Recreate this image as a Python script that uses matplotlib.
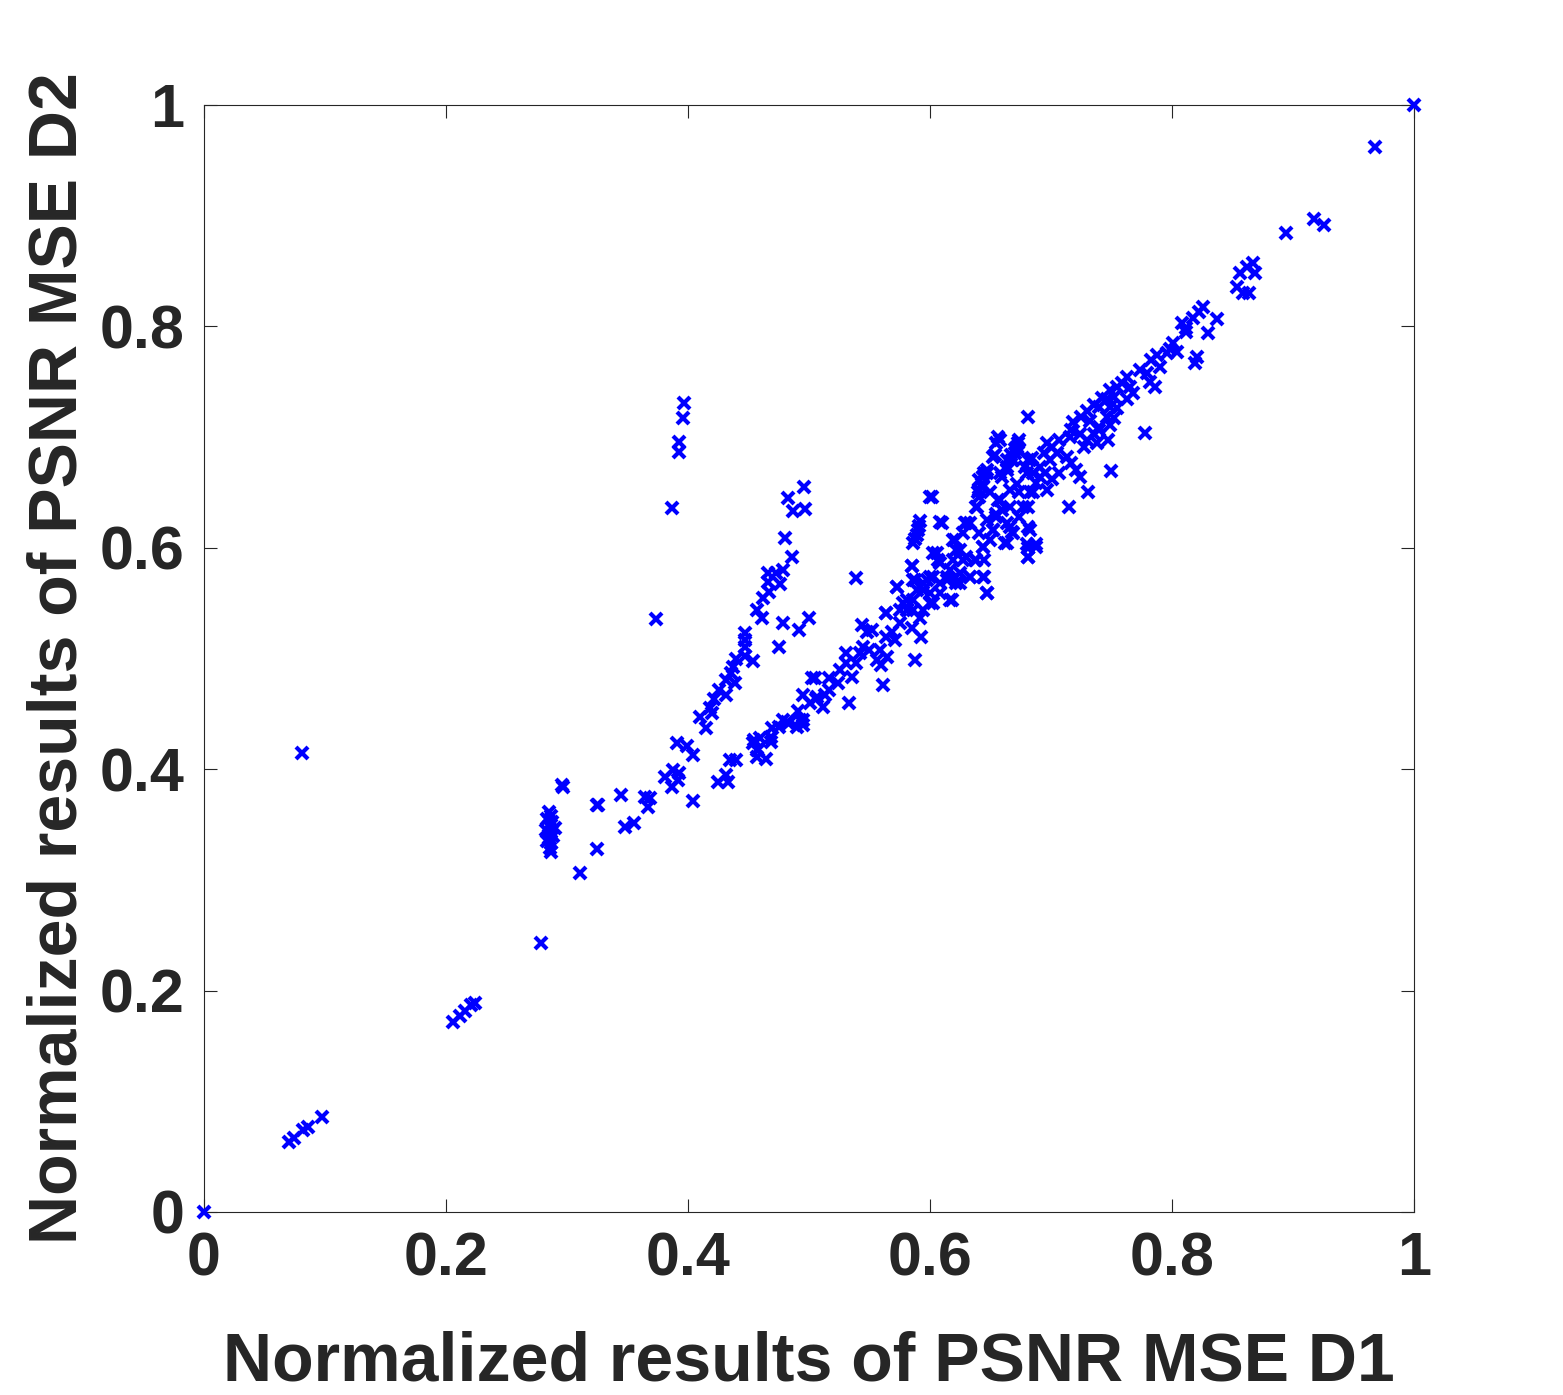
import numpy as np
import matplotlib
matplotlib.use('Agg')
import matplotlib.pyplot as plt

# Normalized results (D1 on x, D2 on y)
d1_outliers = [0.0, 1.0, 0.968, 0.917, 0.926, 0.894, 0.081, 0.279, 0.311, 0.296, 0.297]
d2_outliers = [0.0, 1.0, 0.962, 0.897, 0.892, 0.884, 0.415, 0.243, 0.306, 0.386, 0.384]

d1_low = [0.071, 0.075, 0.082, 0.086, 0.098, 0.206, 0.212, 0.216, 0.221, 0.224]
d2_low = [0.063, 0.067, 0.074, 0.077, 0.086, 0.172, 0.177, 0.182, 0.187, 0.189]

d1_col = [0.285, 0.287, 0.284, 0.288, 0.285, 0.290, 0.283, 0.287, 0.289, 0.285, 0.284, 0.287, 0.286, 0.287]
d2_col = [0.361, 0.358, 0.355, 0.352, 0.349, 0.347, 0.345, 0.343, 0.340, 0.338, 0.335, 0.333, 0.329, 0.325]

# upper (steeper) branch
d1_up = [0.397, 0.396, 0.393, 0.393, 0.387, 0.496, 0.483, 0.487, 0.497, 0.480, 0.486, 0.466, 0.473,
         0.479, 0.466, 0.476, 0.467, 0.462, 0.457, 0.461, 0.374, 0.479, 0.500, 0.492, 0.475, 0.447,
         0.447, 0.447, 0.440, 0.447, 0.454, 0.437, 0.436, 0.432, 0.439, 0.426, 0.432, 0.422, 0.418,
         0.420, 0.410, 0.415, 0.391, 0.399, 0.404, 0.381, 0.388, 0.393, 0.387, 0.392, 0.345, 0.326,
         0.365, 0.369, 0.367, 0.404, 0.348, 0.356, 0.325, 0.325]
d2_up = [0.731, 0.717, 0.696, 0.687, 0.636, 0.655, 0.645, 0.633, 0.635, 0.609, 0.592, 0.577, 0.577,
         0.580, 0.569, 0.567, 0.560, 0.555, 0.544, 0.537, 0.536, 0.532, 0.537, 0.526, 0.510, 0.523,
         0.517, 0.510, 0.500, 0.502, 0.498, 0.492, 0.487, 0.481, 0.478, 0.472, 0.467, 0.463, 0.455,
         0.451, 0.447, 0.437, 0.424, 0.421, 0.413, 0.393, 0.399, 0.397, 0.384, 0.390, 0.377, 0.368,
         0.375, 0.374, 0.366, 0.371, 0.348, 0.351, 0.368, 0.328]

# main branch
d1_main = [0.503, 0.495, 0.506, 0.513, 0.512, 0.491, 0.495, 0.482, 0.475, 0.470, 0.490, 0.495, 0.460,
           0.454, 0.469, 0.457, 0.457, 0.465, 0.435, 0.440, 0.432, 0.425, 0.433, 0.455, 0.458, 0.469,
           0.479, 0.484, 0.493, 0.501, 0.505, 0.507, 0.517, 0.517, 0.524, 0.526, 0.531, 0.531, 0.536,
           0.533, 0.539, 0.542, 0.545, 0.544, 0.548, 0.552, 0.550, 0.556, 0.560, 0.559, 0.561, 0.564,
           0.565, 0.564, 0.569, 0.571, 0.573, 0.575, 0.578, 0.581, 0.585, 0.586, 0.588, 0.588, 0.592,
           0.593, 0.594, 0.598, 0.600, 0.603, 0.608, 0.606, 0.608, 0.618, 0.614, 0.619, 0.622, 0.621,
           0.627, 0.625, 0.630, 0.633, 0.638, 0.647, 0.645, 0.644, 0.638, 0.644, 0.643, 0.641, 0.600,
           0.608, 0.585, 0.539, 0.586, 0.588, 0.589, 0.590, 0.591, 0.592, 0.652, 0.658, 0.664, 0.666,
           0.672, 0.656, 0.655, 0.652, 0.650, 0.660, 0.666, 0.674, 0.669, 0.664, 0.681, 0.683, 0.681,
           0.688, 0.681, 0.677, 0.683, 0.691, 0.685, 0.674, 0.669]
d2_main = [0.482, 0.467, 0.463, 0.467, 0.456, 0.453, 0.444, 0.443, 0.438, 0.437, 0.438, 0.440, 0.428,
           0.424, 0.425, 0.417, 0.411, 0.409, 0.408, 0.408, 0.395, 0.388, 0.388, 0.426, 0.417, 0.429,
           0.444, 0.442, 0.444, 0.460, 0.482, 0.465, 0.482, 0.472, 0.478, 0.490, 0.496, 0.505, 0.483,
           0.460, 0.496, 0.505, 0.510, 0.530, 0.524, 0.526, 0.508, 0.499, 0.494, 0.508, 0.476, 0.519,
           0.501, 0.541, 0.524, 0.517, 0.565, 0.532, 0.550, 0.544, 0.528, 0.553, 0.571, 0.499, 0.537,
           0.519, 0.562, 0.571, 0.550, 0.574, 0.559, 0.595, 0.586, 0.553, 0.571, 0.607, 0.598, 0.574,
           0.589, 0.568, 0.622, 0.574, 0.589, 0.559, 0.574, 0.601, 0.637, 0.664, 0.655, 0.646, 0.646,
           0.623, 0.584, 0.573, 0.604, 0.608, 0.612, 0.616, 0.620, 0.624, 0.682, 0.668, 0.673, 0.652,
           0.658, 0.643, 0.628, 0.616, 0.607, 0.634, 0.619, 0.628, 0.613, 0.604, 0.679, 0.616, 0.600,
           0.601, 0.592, 0.637, 0.650, 0.664, 0.668, 0.688, 0.679]

# dense middle/upper section of the main branch
d1_dense = [0.862, 0.867, 0.869, 0.856, 0.854, 0.859, 0.864, 0.826, 0.822, 0.817, 0.837, 0.808, 0.812,
            0.830, 0.812, 0.801, 0.798, 0.796, 0.804, 0.821, 0.819, 0.788, 0.783, 0.790, 0.774, 0.779,
            0.782, 0.786, 0.763, 0.765, 0.759, 0.768, 0.763, 0.755, 0.749, 0.752, 0.746, 0.742, 0.740,
            0.749, 0.755, 0.736, 0.746, 0.752, 0.730, 0.725, 0.732, 0.749, 0.740, 0.778, 0.681, 0.718,
            0.717, 0.716, 0.724, 0.730, 0.736, 0.740, 0.738, 0.747, 0.727, 0.707, 0.701, 0.697, 0.705,
            0.699, 0.694, 0.713, 0.717, 0.724, 0.721, 0.750, 0.731, 0.715, 0.707, 0.701, 0.695, 0.691,
            0.688, 0.697, 0.684, 0.680, 0.685, 0.681, 0.681, 0.680, 0.688, 0.681, 0.674, 0.673, 0.670,
            0.668, 0.664, 0.660, 0.658, 0.655, 0.654, 0.647, 0.641, 0.644, 0.640, 0.650, 0.658, 0.666,
            0.655, 0.664, 0.668, 0.662, 0.647, 0.652, 0.639, 0.633, 0.641, 0.644, 0.637, 0.645, 0.644,
            0.647, 0.629, 0.627, 0.621, 0.625, 0.630, 0.619, 0.617, 0.625, 0.633, 0.622, 0.617, 0.603,
            0.607, 0.614, 0.608, 0.600, 0.594, 0.589, 0.586, 0.585, 0.573, 0.581, 0.600, 0.603, 0.594,
            0.586, 0.575, 0.564, 0.602, 0.610, 0.641, 0.643, 0.644, 0.645, 0.647, 0.656, 0.664, 0.667,
            0.670, 0.672, 0.674, 0.679, 0.683]
d2_dense = [0.854, 0.857, 0.848, 0.848, 0.836, 0.830, 0.830, 0.818, 0.813, 0.808, 0.807, 0.803, 0.799,
            0.794, 0.795, 0.785, 0.780, 0.776, 0.777, 0.772, 0.767, 0.774, 0.770, 0.763, 0.761, 0.758,
            0.750, 0.745, 0.754, 0.745, 0.749, 0.740, 0.734, 0.745, 0.743, 0.736, 0.734, 0.735, 0.727,
            0.727, 0.726, 0.729, 0.718, 0.717, 0.724, 0.718, 0.715, 0.711, 0.709, 0.704, 0.718, 0.714,
            0.706, 0.700, 0.703, 0.697, 0.703, 0.706, 0.695, 0.697, 0.691, 0.697, 0.691, 0.695, 0.686,
            0.679, 0.686, 0.682, 0.677, 0.664, 0.670, 0.669, 0.650, 0.637, 0.668, 0.662, 0.668, 0.673,
            0.659, 0.652, 0.681, 0.668, 0.650, 0.637, 0.619, 0.603, 0.603, 0.592, 0.650, 0.695, 0.686,
            0.679, 0.670, 0.664, 0.697, 0.695, 0.684, 0.668, 0.661, 0.655, 0.650, 0.650, 0.643, 0.637,
            0.631, 0.622, 0.614, 0.604, 0.625, 0.616, 0.637, 0.622, 0.613, 0.601, 0.589, 0.589, 0.574,
            0.559, 0.622, 0.613, 0.607, 0.598, 0.592, 0.589, 0.580, 0.577, 0.574, 0.568, 0.553, 0.595,
            0.589, 0.574, 0.568, 0.574, 0.568, 0.562, 0.571, 0.584, 0.565, 0.553, 0.559, 0.550, 0.544,
            0.544, 0.544, 0.541, 0.646, 0.622, 0.652, 0.658, 0.664, 0.668, 0.670, 0.700, 0.679, 0.684,
            0.689, 0.691, 0.697, 0.673, 0.679]

d1 = d1_outliers + d1_low + d1_col + d1_up + d1_main + d1_dense
d2 = d2_outliers + d2_low + d2_col + d2_up + d2_main + d2_dense

plt.rcParams['font.family'] = ['Liberation Sans', 'DejaVu Sans']
plt.rcParams['font.weight'] = 'bold'

fig = plt.figure(figsize=(15.63, 13.95), dpi=100)
ax = fig.add_axes([0.1302, 0.1312, 0.7745, 0.7935])

ax.plot(d1, d2, 'x', color='#0000ff', markersize=8.5, markeredgewidth=3.0,
        linestyle='none', clip_on=False, zorder=3)

ax.set_xlim(0, 1)
ax.set_ylim(0, 1)
ticks = [0, 0.2, 0.4, 0.6, 0.8, 1]
tick_labels = ['0', '0.2', '0.4', '0.6', '0.8', '1']
ax.set_xticks(ticks)
ax.set_xticklabels(tick_labels)
ax.set_yticks(ticks)
ax.set_yticklabels(tick_labels)

txt = '#262626'
ax.tick_params(direction='in', length=9.5, width=0.8, top=True, right=True,
               labelsize=44, labelcolor=txt, color=txt, pad=14)
for s in ax.spines.values():
    s.set_linewidth(0.8)
    s.set_color(txt)

ax.set_xlabel('Normalized results of PSNR MSE D1', fontsize=49, fontweight='bold', color=txt, labelpad=30)
ax.set_ylabel('Normalized results of PSNR MSE D2', fontsize=49, fontweight='bold', color=txt, labelpad=6)

fig.savefig('out.png', dpi=100)
